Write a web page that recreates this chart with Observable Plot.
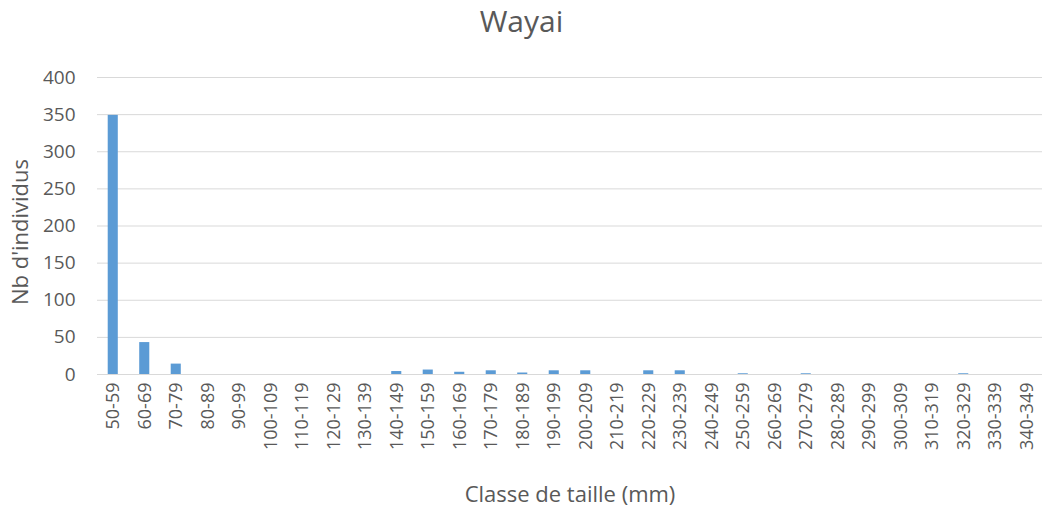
<!DOCTYPE html>
<html><head><meta charset="utf-8">
<script src="https://cdn.jsdelivr.net/npm/d3@7"></script>
<script src="https://cdn.jsdelivr.net/npm/@observablehq/plot@0.6"></script>
<style>
body{margin:0;background:#fff;font-family:"Open Sans",sans-serif;}
#wrap{position:relative;width:1043px;height:508px;}
#title{position:absolute;left:0;width:1043px;top:6px;line-height:30px;text-align:center;font-size:30px;color:#595959;}
#chart{position:absolute;left:0;top:0;}
</style></head><body>
<div id="wrap"><div id="chart"></div><div id="title">Wayai</div></div>
<script>
const classes = ["50-59","60-69","70-79","80-89","90-99","100-109","110-119","120-129","130-139","140-149","150-159","160-169","170-179","180-189","190-199","200-209","210-219","220-229","230-239","240-249","250-259","260-269","270-279","280-289","290-299","300-309","310-319","320-329","330-339","340-349"];
const counts = [349,43,14,0,0,0,0,0,0,4,6,3,5,2,5,5,0,5,5,0,1,0,1,0,0,0,0,1,0,0];
const yTicks = [0,50,100,150,200,250,300,350,400];
const data = classes.map((c,i)=>({classe:c, n:counts[i]}));

const chart = Plot.plot({
  width:1043, height:508,
  marginTop:77, marginBottom:134, marginLeft:97, marginRight:1,
  style:{fontFamily:"'Open Sans', sans-serif", fontSize:"16px", color:"#595959", background:"#fff"},
  x:{domain:classes, paddingInner:0.68, paddingOuter:0.34, round:false, label:null},
  y:{domain:[0,400], label:null},
  marks:[
    Plot.gridY(yTicks,{stroke:"#d9d9d9", strokeOpacity:1, strokeWidth:1}),
    Plot.barY(data,{x:"classe", y:"n", fill:"#5B9BD5"}),
    Plot.axisY(yTicks,{tickSize:0, tickPadding:22, fill:"#595959", fontSize:19}),
    Plot.axisX({tickSize:0, tickPadding:8, tickRotate:-90, fill:"#595959", fontSize:18}),
    Plot.text(["Nb d'individus"],{frameAnchor:"left", textAnchor:"middle", lineAnchor:"middle", dx:-77, dy:6, rotate:-90, fill:"#595959", fontSize:22}),
    Plot.text(["Classe de taille (mm)"],{frameAnchor:"bottom", lineAnchor:"middle", dy:120, fill:"#595959", fontSize:22})
  ]
});
document.getElementById("chart").appendChild(chart);
</script></body></html>
